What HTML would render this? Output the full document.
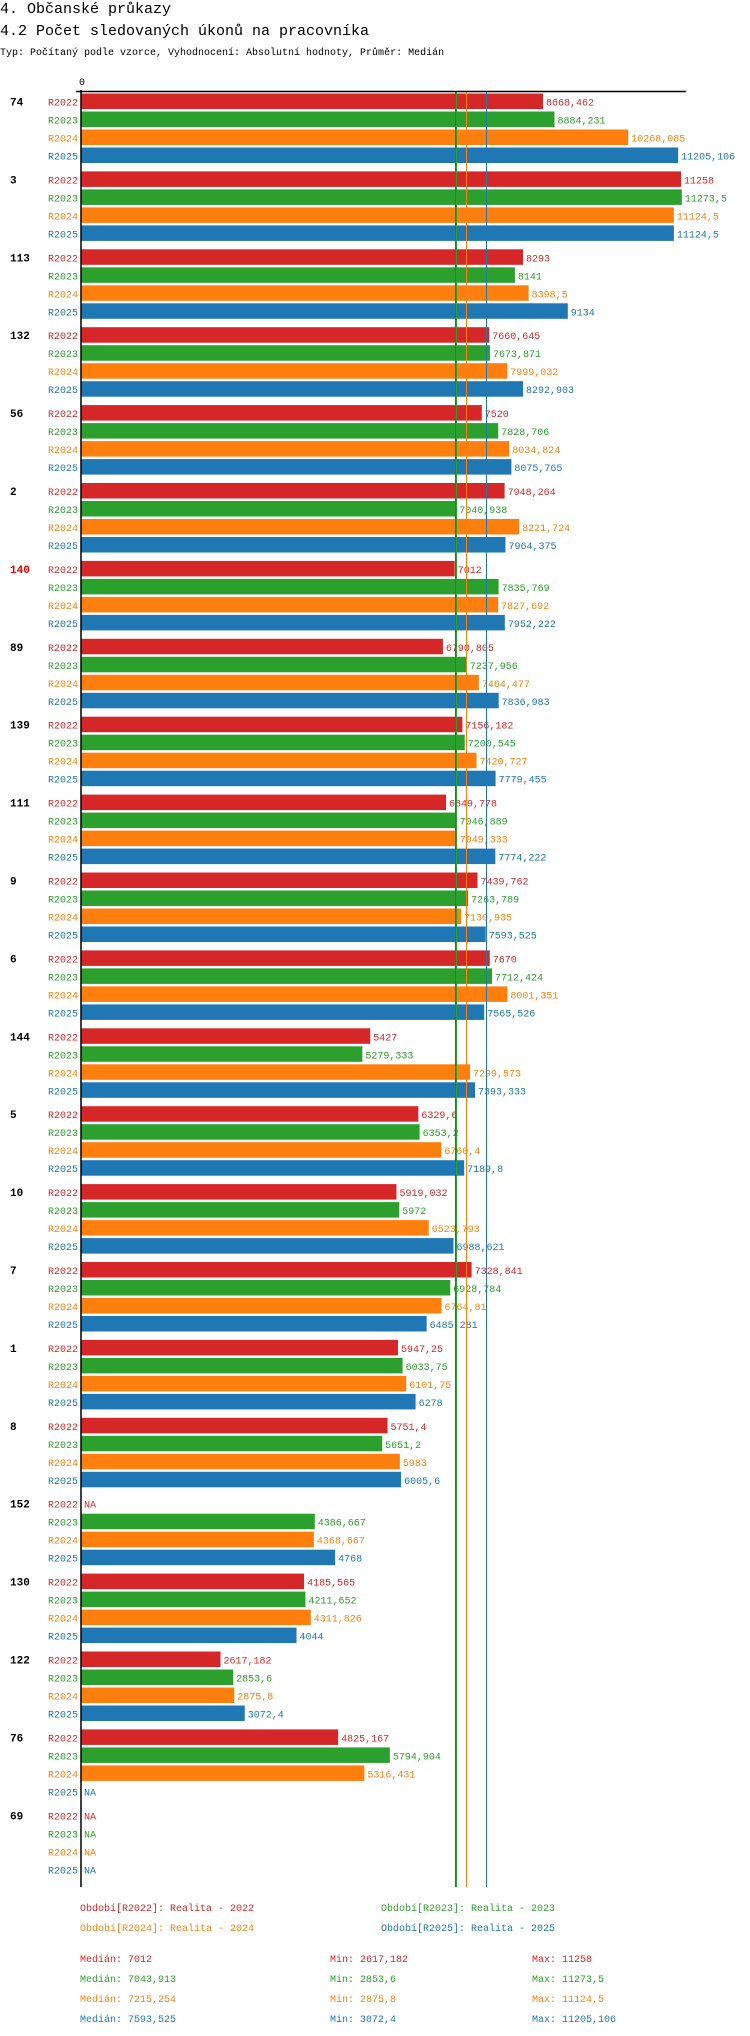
<!DOCTYPE html>
<html><head><meta charset="utf-8"><style>
body{margin:0;background:#fff;width:750px;height:2036px;overflow:hidden}
svg{display:block}
text{font-family:"Liberation Mono",monospace}
</style></head><body>
<svg id="c" width="750" height="2036">
<text x="0" y="13" font-size="15">4. Občanské průkazy</text>
<text x="0" y="35" font-size="15">4.2 Počet sledovaných úkonů na pracovníka</text>
<text x="0" y="55" font-size="10">Typ: Počítaný podle vzorce, Vyhodnocení: Absolutní hodnoty, Průměr: Medián</text>
</svg>
<script>
const groups=["74","3","113","132","56","2","140","89","139","111","9","6","144","5","10","7","1","8","152","130","122","76","69"];
const series=["R2022","R2023","R2024","R2025"];
const r2022=[8668.462,11258,8293,7660.645,7520,7948.264,7012,6790.805,7156.182,6849.778,7439.762,7670,5427,6329.6,5919.032,7328.841,5947.25,5751.4,null,4185.565,2617.182,4825.167,null];
const r2023=[8884.231,11273.5,8141,7673.871,7828.706,7040.938,7835.769,7237.956,7200.545,7046.889,7263.789,7712.424,5279.333,6353.2,5972,6928.784,6033.75,5651.2,4386.667,4211.652,2853.6,5794.904,null];
const r2024=[10268.085,11124.5,8398.5,7999.032,8034.824,8221.724,7827.692,7464.477,7420.727,7049.333,7130.935,8001.351,7299.573,6760.4,6523.793,6764.81,6101.75,5983,4368.667,4311.826,2875.8,5316.431,null];
const r2025=[11205.106,11124.5,9134,8292.903,8075.765,7964.375,7952.222,7836.983,7779.455,7774.222,7593.525,7565.526,7393.333,7189.8,6988.621,6485.281,6278,6005.6,4768,4044,3072.4,null,null];
const medians=[7012,7043.913,7215.254,7593.525];
const mins=["2617,182","2853,6","2875,8","3072,4"];
const maxs=["11258","11273,5","11124,5","11205,106"];
const medianLabels=["7012","7043,913","7215,254","7593,525"];
const colors=["#d62728","#2ca02c","#ff7f0e","#1f77b4"];
const vals=[r2022,r2023,r2024,r2025];
const svg=document.getElementById('c');
const NS="http://www.w3.org/2000/svg";
const X0=81,XMAX=11258,W=600;
const x=v=>X0+v*W/XMAX;
const gy=i=>93.5+i*77.9;
const by=(i,j)=>gy(i)+j*18;
function mk(t,a,txt){const e=document.createElementNS(NS,t);for(const k in a)e.setAttribute(k,a[k]);if(txt!=null)e.textContent=txt;svg.appendChild(e);return e;}
const fmt=v=>String(v).replace('.',',');
let e;
e=mk('text',{x:x(0)-2,y:85,'font-size':10},'0');


groups.forEach((g,i)=>{
 e=mk('text',{x:10,y:gy(i)+12,'font-size':11,'font-weight':'bold',fill:g==='140'?'#e00':'#000'},g);
 
 
 series.forEach((s,j)=>{
  const v=vals[j][i],y=by(i,j);
  e=mk('text',{x:78,y:y+12,'font-size':10,fill:colors[j],'text-anchor':'end'},s);
  
  
  if(v==null){
   e=mk('text',{x:x(0)+3,y:y+12,'font-size':10,fill:colors[j]},'NA');
   
   
  }else{
   e=mk('rect',{x:x(0),y:y,width:x(v)-x(0),height:15.5,fill:colors[j]});
   
   
   e=mk('text',{x:x(v)+3,y:y+12,'font-size':10,fill:colors[j]},fmt(v));
   
   
  }
 });
});
medians.forEach((m,j)=>{
 const lx=Math.round(x(m))+0.5;
 e=mk('line',{x1:lx,x2:lx,y1:91,y2:1887,stroke:colors[j],'stroke-width':1});
 
 
});
e=mk('line',{x1:76,x2:686,y1:91.5,y2:91.5,stroke:'#000','stroke-width':1.5});


e=mk('line',{x1:x(0),x2:x(0),y1:90,y2:1887,stroke:'#000','stroke-width':1.5});


const legPos=[[80,1911],[381,1911],[80,1931],[381,1931]];
series.forEach((s,j)=>{
 e=mk('text',{x:legPos[j][0],y:legPos[j][1],'font-size':10,fill:colors[j]},'Období['+s+']: Realita - '+s.slice(1));
 
 
 const yy=1962+j*20;
 e=mk('text',{x:80,y:yy,'font-size':10,fill:colors[j]},'Medián: '+medianLabels[j]);
 
 
 e=mk('text',{x:330,y:yy,'font-size':10,fill:colors[j]},'Min: '+mins[j]);
 
 
 e=mk('text',{x:532,y:yy,'font-size':10,fill:colors[j]},'Max: '+maxs[j]);
 
 
});
</script>
</body></html>
